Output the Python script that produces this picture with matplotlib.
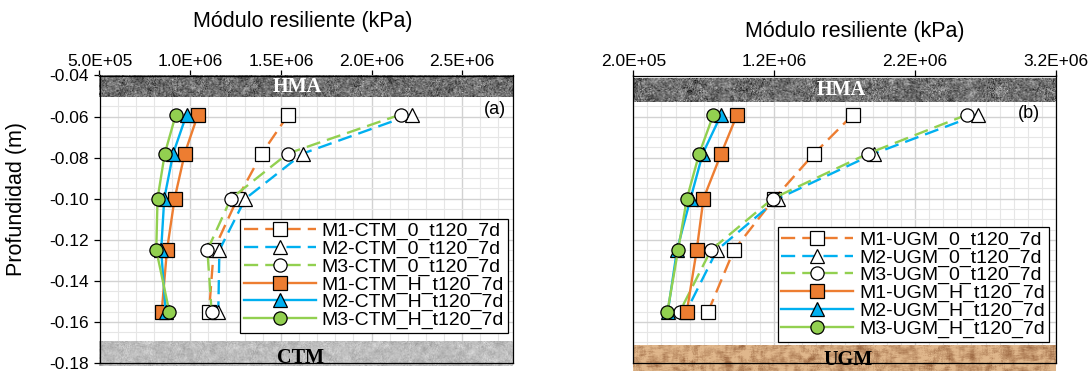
import numpy as np
import matplotlib.pyplot as plt
from matplotlib.ticker import MultipleLocator, FixedLocator, FuncFormatter

plt.rcParams['font.family'] = ['Liberation Sans', 'DejaVu Sans']

# profundidad de los sensores (m)
depth = [-0.059, -0.078, -0.100, -0.125, -0.155]

# (a) base CTM - modulo resiliente (kPa)
ctm_m1_0 = [1.542e6, 1.395e6, 1.260e6, 1.130e6, 1.104e6]
ctm_m2_0 = [2.221e6, 1.621e6, 1.304e6, 1.161e6, 1.155e6]
ctm_m3_0 = [2.160e6, 1.538e6, 1.224e6, 1.095e6, 1.118e6]
ctm_m1_h = [1.043e6, 9.70e5, 9.14e5, 8.72e5, 8.43e5]
ctm_m2_h = [9.80e5, 9.06e5, 8.57e5, 8.40e5, 8.65e5]
ctm_m3_h = [9.21e5, 8.60e5, 8.20e5, 8.13e5, 8.85e5]

# (b) base UGM
ugm_m1_0 = [1.760e6, 1.484e6, 1.200e6, 9.14e5, 7.31e5]
ugm_m2_0 = [2.647e6, 1.911e6, 1.226e6, 7.94e5, 5.75e5]
ugm_m3_0 = [2.571e6, 1.866e6, 1.188e6, 7.51e5, 5.30e5]
ugm_m1_h = [9.37e5, 8.24e5, 6.98e5, 6.50e5, 5.80e5]
ugm_m2_h = [8.24e5, 6.93e5, 6.06e5, 5.10e5, 4.45e5]
ugm_m3_h = [7.69e5, 6.68e5, 5.80e5, 5.18e5, 4.42e5]

ORANGE, BLUE, GREEN = '#ED7D31', '#00B0F0', '#92D050'
W, H = 1092, 372


def smooth(a, k):
    ker = np.ones(k) / k
    a = np.apply_along_axis(lambda r: np.convolve(r, ker, mode='same'), 1, a)
    return np.apply_along_axis(lambda c: np.convolve(c, ker, mode='same'), 0, a)


def band(ax, x0, x1, y0, y1, kind, seed):
    rng = np.random.default_rng(seed)
    ny, nx = 26, 430
    if kind == 'hma':
        g = 0.44 + 0.12 * rng.normal(size=(ny, nx)) + 0.25 * smooth(rng.normal(size=(ny, nx)), 5)
        g = np.clip(g, 0, 1)
        img = np.dstack([g, g, g])
    elif kind == 'ctm':
        g = np.clip(0.74 + 0.04 * rng.normal(size=(ny, nx))
                    + 0.12 * smooth(rng.normal(size=(ny, nx)), 5), 0, 1)
        img = np.dstack([g, g, g])
    else:
        blot = smooth(rng.normal(size=(ny + 10, nx + 10)), 6)[5:-5, 5:-5]
        t = np.clip(0.25 + 1.4 * blot + 0.08 * rng.normal(size=(ny, nx)), 0, 1)[..., None]
        light = np.array([0.88, 0.72, 0.55])
        dark = np.array([0.62, 0.42, 0.27])
        img = light * (1 - t) + dark * t
    im = ax.imshow(img, extent=(x0, x1, y0, y1), aspect='auto',
                   interpolation='bilinear', zorder=1.5)
    im.set_clip_on(False)


def panel(ax, series, xlim, xticks, xminor):
    for xs, col, mk, mfc, ls in series:
        ax.plot(xs, depth, color=col, lw=1.7, ls=ls, marker=mk, ms=9.5,
                mfc=mfc, mec='black', mew=0.9, zorder=3)
    ax.set_xlim(*xlim)
    ax.set_ylim(-0.18, -0.04)
    ax.xaxis.tick_top()
    ax.xaxis.set_major_locator(xticks)
    ax.xaxis.set_minor_locator(MultipleLocator(xminor))
    ax.xaxis.set_major_formatter(FuncFormatter(lambda v, p: f"{v:.1E}"))
    ax.yaxis.set_major_locator(MultipleLocator(0.02))
    ax.yaxis.set_minor_locator(MultipleLocator(0.005))
    ax.yaxis.set_major_formatter(FuncFormatter(lambda v, p: f"{v:.2f}"))
    ax.tick_params(axis='x', which='major', length=4, width=0.9, pad=1, labelsize=12.5)
    ax.tick_params(axis='y', which='major', length=4.5, width=0.9, pad=3, labelsize=12.5)
    ax.tick_params(which='minor', length=0)
    ax.grid(which='major', color='#d2d2d2', lw=1.0)
    ax.grid(which='minor', color='#e6e6e6', lw=0.8)
    ax.set_axisbelow(True)
    for s in ax.spines.values():
        s.set_color('black')
        s.set_linewidth(0.9)


fig = plt.figure(figsize=(W / 100, H / 100), dpi=100)
bottom = 1 - 363 / H
height = (363 - 75.5) / H
ax1 = fig.add_axes([99.5 / W, bottom, (513 - 99.5) / W, height])
ax2 = fig.add_axes([633.3 / W, bottom, (1056 - 633.3) / W, height])

lab_a = ['M1-CTM_0_t120_7d', 'M2-CTM_0_t120_7d', 'M3-CTM_0_t120_7d',
         'M1-CTM_H_t120_7d', 'M2-CTM_H_t120_7d', 'M3-CTM_H_t120_7d']
lab_b = [s.replace('CTM', 'UGM') for s in lab_a]

dash = (0, (6, 3))
panel(ax1, [(ctm_m1_0, ORANGE, 's', 'white', dash),
            (ctm_m2_0, BLUE, '^', 'white', dash),
            (ctm_m3_0, GREEN, 'o', 'white', dash),
            (ctm_m1_h, ORANGE, 's', ORANGE, '-'),
            (ctm_m2_h, BLUE, '^', BLUE, '-'),
            (ctm_m3_h, GREEN, 'o', GREEN, '-')],
      (5e5, 2.78e6), MultipleLocator(5e5), 1e5)
panel(ax2, [(ugm_m1_0, ORANGE, 's', 'white', dash),
            (ugm_m2_0, BLUE, '^', 'white', dash),
            (ugm_m3_0, GREEN, 'o', 'white', dash),
            (ugm_m1_h, ORANGE, 's', ORANGE, '-'),
            (ugm_m2_h, BLUE, '^', BLUE, '-'),
            (ugm_m3_h, GREEN, 'o', GREEN, '-')],
      (2e5, 3.2e6), FixedLocator([2e5, 1.2e6, 2.2e6, 3.2e6]), 1e5)
ax2.tick_params(axis='y', which='both', length=0, labelleft=False)

# capas: carpeta asfaltica arriba, base abajo
band(ax1, 5e5, 2.78e6, -0.0506, -0.04, 'hma', 1)
band(ax1, 5e5, 2.78e6, -0.1815, -0.1697, 'ctm', 2)
band(ax2, 2e5, 3.2e6, -0.0527, -0.0412, 'hma', 3)
band(ax2, 2e5, 3.2e6, -0.1840, -0.1718, 'ugm', 4)
ax1.set_xlim(5e5, 2.78e6)
ax2.set_xlim(2e5, 3.2e6)
for ax in (ax1, ax2):
    ax.set_ylim(-0.18, -0.04)

serif = dict(family=['Liberation Serif', 'DejaVu Serif'], weight='bold', fontsize=14.5,
             ha='center', va='center', zorder=4)
ax1.text(1.59e6, -0.0455, 'HMA', color='white', **serif)
ax2.text(1.673e6, -0.0470, 'HMA', color='white', **serif)
ax1.text(1.608e6, -0.1776, 'CTM', color='black', clip_on=False, **serif)
ax2.text(1.723e6, -0.1786, 'UGM', color='black', clip_on=False, **serif)

leg_kw = dict(loc='lower right', fontsize=14, frameon=True, fancybox=False,
              edgecolor='black', framealpha=1, handlelength=3.7, handletextpad=0.3,
              labelspacing=0.0, borderpad=0.2, borderaxespad=0)
l1 = ax1.legend(ax1.get_lines(), lab_a, bbox_to_anchor=(0.988, 0.104), **leg_kw)
l2 = ax2.legend(ax2.get_lines(), lab_b, bbox_to_anchor=(0.983, 0.074), **leg_kw)
for lg in (l1, l2):
    lg.get_frame().set_linewidth(0.9)
    lg.set_zorder(5)

fig.text(302.8 / W, 1 - 21.7 / H, 'Módulo resiliente (kPa)', fontsize=15.5,
         ha='center', va='center')
fig.text(855 / W, 1 - 31.7 / H, 'Módulo resiliente (kPa)', fontsize=15.5,
         ha='center', va='center')
fig.text(16.7 / W, 1 - 198.5 / H, 'Profundidad (m)', fontsize=15.5,
         rotation=90, ha='center', va='center')
fig.text(494.8 / W, 1 - 110 / H, '(a)', fontsize=13, ha='center', va='center')
fig.text(1028.5 / W, 1 - 113 / H, '(b)', fontsize=13, ha='center', va='center')

fig.savefig('out.png', dpi=100)
